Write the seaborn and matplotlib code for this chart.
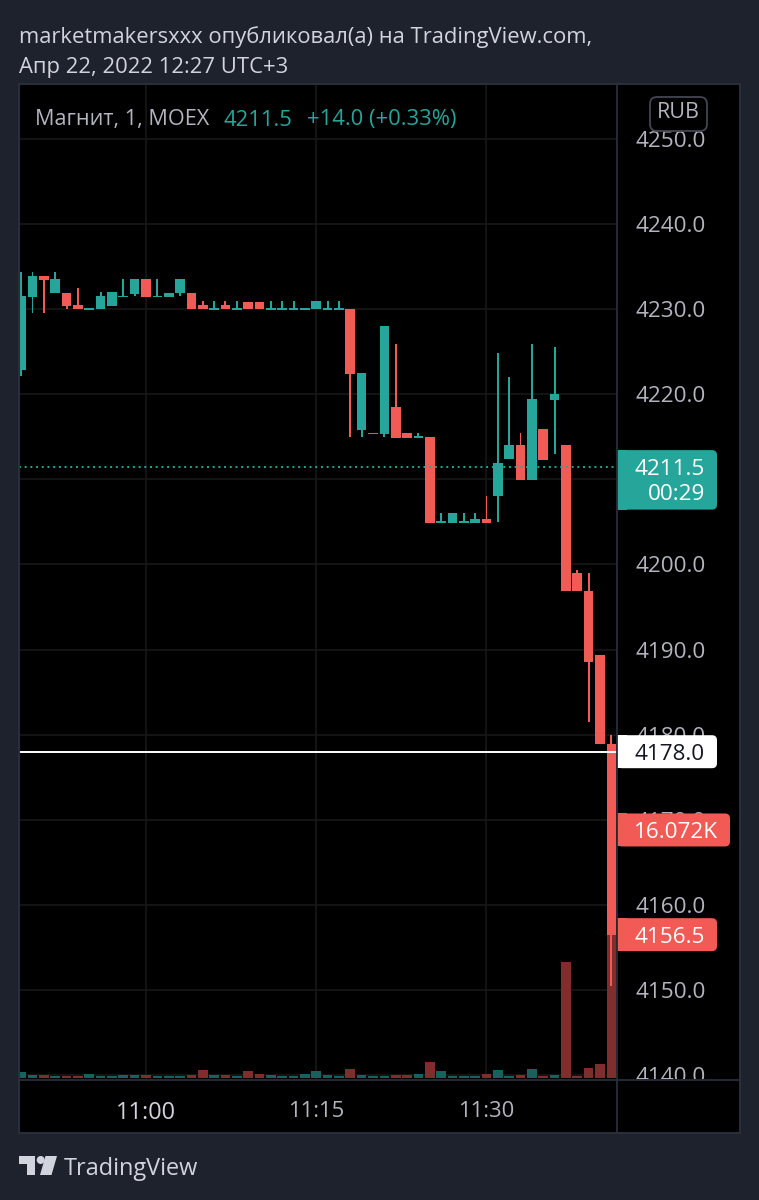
import matplotlib as mpl
mpl.use("Agg")
import matplotlib.pyplot as plt
from matplotlib.patches import FancyBboxPatch, Rectangle, Polygon, Circle
import numpy as np
import pandas as pd
import seaborn as sns

sns.set_style("dark")
plt.rcParams["font.family"] = ["Open Sans", "DejaVu Sans"]

W, H = 759, 1200
DPI = 100

# minutes after 11:00
minutes = list(range(-11, 42))
opens = [4222.9, 4231.4, 4233.9, 4231.9, 4231.9, 4230.5, 4229.9, 4230.0, 4230.4, 4231.4,
         4231.8, 4233.5, 4231.4, 4231.4, 4231.9, 4231.9, 4230.5, 4229.9, 4230.5, 4229.9,
         4230.9, 4230.9, 4229.9, 4229.9, 4229.9, 4229.9, 4230.0, 4229.9, 4229.9, 4230.0,
         4215.8, 4215.3, 4215.3, 4218.5, 4215.4, 4214.9, 4215.0, 4204.9, 4204.9, 4204.9,
         4204.9, 4205.4, 4208.0, 4212.4, 4214.0, 4209.9, 4215.9, 4219.3, 4214.0, 4199.0,
         4196.9, 4189.4, 4178.9]
highs = [4234.4, 4234.4, 4233.9, 4234.4, 4231.9, 4232.5, 4230.1, 4232.0, 4232.0, 4233.5,
         4233.5, 4233.5, 4233.5, 4231.9, 4233.5, 4231.9, 4231.0, 4231.0, 4231.0, 4231.0,
         4230.9, 4230.9, 4231.0, 4231.0, 4231.0, 4230.1, 4231.0, 4231.0, 4231.0, 4230.0,
         4222.5, 4215.5, 4228.0, 4225.9, 4215.4, 4215.4, 4215.0, 4206.0, 4206.0, 4206.0,
         4206.0, 4208.0, 4224.9, 4222.0, 4215.4, 4225.9, 4215.9, 4225.5, 4214.0, 4199.4,
         4199.0, 4189.4, 4180.0]
lows = [4222.1, 4229.5, 4229.5, 4231.9, 4230.0, 4230.0, 4229.9, 4230.0, 4230.4, 4231.4,
        4231.5, 4231.4, 4231.4, 4231.4, 4231.5, 4230.0, 4230.0, 4229.9, 4230.0, 4229.9,
        4230.0, 4230.0, 4229.9, 4229.9, 4229.9, 4229.9, 4230.0, 4229.9, 4229.9, 4215.0,
        4215.0, 4215.3, 4215.0, 4214.9, 4214.9, 4214.9, 4204.9, 4204.9, 4204.9, 4204.9,
        4204.9, 4204.9, 4205.0, 4212.4, 4209.9, 4209.9, 4212.3, 4213.0, 4196.9, 4196.9,
        4181.5, 4178.9, 4150.5]
closes = [4231.5, 4233.9, 4233.4, 4233.5, 4230.4, 4230.0, 4230.1, 4231.5, 4232.0, 4231.6,
          4233.5, 4231.4, 4231.6, 4231.9, 4233.5, 4230.0, 4230.0, 4230.1, 4230.0, 4230.1,
          4230.0, 4230.0, 4230.1, 4230.1, 4230.1, 4230.1, 4231.0, 4230.1, 4230.1, 4222.4,
          4222.5, 4215.5, 4228.0, 4214.9, 4214.9, 4215.1, 4204.9, 4205.1, 4206.0, 4205.1,
          4205.4, 4204.9, 4211.9, 4214.0, 4209.9, 4219.4, 4212.3, 4220.0, 4196.9, 4196.9,
          4188.5, 4178.9, 4156.5]
volumes = [370, 195, 195, 130, 130, 130, 260, 130, 130, 195,
           195, 195, 130, 130, 130, 195, 500, 195, 195, 130,
           430, 260, 195, 130, 130, 260, 430, 195, 130, 560,
           195, 130, 130, 195, 195, 240, 1037, 430, 130, 130,
           130, 240, 500, 130, 195, 560, 130, 195, 7517, 130,
           670, 907, 16072]

price_ticks = [4140, 4150, 4160, 4170, 4180, 4190, 4200, 4210, 4220, 4230, 4240, 4250]
time_ticks = [0, 15, 30]
time_labels = ["11:00", "11:15", "11:30"]

BG = "#1e222d"
UP = "#26a69a"
DOWN = "#f25a56"
UP_VOL = "#14635c"
DOWN_VOL = "#7f2d2d"
GRID = "#171717"
SEP = "#2a2e39"
TEXT = "#d1d4dc"
MUTED = "#b2b5be"

df = pd.DataFrame({"t": minutes, "open": opens, "high": highs, "low": lows,
                   "close": closes, "volume": volumes})
df["up"] = df["close"] >= df["open"]


def rect(x0, y0, x1, y1):
    # pixel box (top-left origin) to figure fraction
    return [x0 / W, 1 - y1 / H, (x1 - x0) / W, (y1 - y0) / H]


def px(size):
    return size * 72 / DPI


def bars(ax, data, bottom, height, color, width):
    sns.barplot(x=data["t"].to_numpy(), y=height, bottom=bottom, native_scale=True,
                orient="x", color=color, saturation=1, width=width, errorbar=None,
                linewidth=0, ax=ax)


fig = plt.figure(figsize=(W / DPI, H / DPI), dpi=DPI, facecolor=BG)

x_lim = (-11.19, 41.5)
y_lim = (4139.54, 4256.46)

scale_ax = fig.add_axes(rect(617, 84, 740, 1079), facecolor="black", zorder=0)
scale_ax.set_xticks([])
scale_ax.set_yticks([])

# grid sits under the volume bars, so it gets its own layer
grid_ax = fig.add_axes(rect(19, 84, 617, 1079), facecolor="black", zorder=0.5)
grid_ax.set_xlim(x_lim)
grid_ax.set_ylim(y_lim)
grid_ax.set_xticks(time_ticks)
grid_ax.set_yticks(price_ticks)
grid_ax.tick_params(length=0, labelbottom=False, labelleft=False)
grid_ax.grid(True, color=GRID, lw=1.2)

vol_ax = fig.add_axes(rect(19, 84, 617, 1079), zorder=1)
vol_ax.patch.set_visible(False)
ax = fig.add_axes(rect(19, 84, 617, 1079), zorder=2)
ax.patch.set_visible(False)

# volume pane
for up, color in [(True, UP_VOL), (False, DOWN_VOL)]:
    part = df[df["up"] == up]
    sns.barplot(data=part, x="t", y="volume", native_scale=True, orient="x", color=color,
                saturation=1, width=0.85, errorbar=None, linewidth=0, ax=vol_ax)
vol_ax.set_xlim(x_lim)
vol_ax.set_ylim(-65, -65 + 995 * 64.8)
vol_ax.set_xticks([])
vol_ax.set_yticks([])
vol_ax.set_xlabel("")
vol_ax.set_ylabel("")
vol_ax.grid(False)

# candles
for up, color in [(True, UP), (False, DOWN)]:
    part = df[df["up"] == up]
    bars(ax, part, part["low"].to_numpy(), (part["high"] - part["low"]).to_numpy(), color, 0.17)
    bottom = part[["open", "close"]].min(axis=1).to_numpy()
    height = (part["close"] - part["open"]).abs().to_numpy()
    bars(ax, part, bottom, height, color, 0.85)

ax.axhline(4178.0, color="white", lw=1.4, zorder=1)
ax.axhline(4211.5, color=UP, lw=1.4, linestyle=(0, (1, 1.93)), zorder=5)

ax.set_xlim(x_lim)
ax.set_ylim(y_lim)
ax.set_xlabel("")
ax.set_ylabel("")
ax.set_xticks([])
ax.set_yticks(price_ticks)
ax.set_yticklabels([f"{p:.1f}" for p in price_ticks])
ax.yaxis.tick_right()
ax.tick_params(axis="y", length=0, pad=px(19), labelsize=px(22.5), labelcolor=MUTED)
ax.grid(False)
for a in (ax, vol_ax, grid_ax, scale_ax):
    for s in a.spines.values():
        s.set_visible(False)
for lab in ax.get_yticklabels():
    lab.set_ha("left")

# time pane
time_ax = fig.add_axes(rect(19, 1079, 617, 1133), facecolor="black", zorder=3)
time_ax.set_xlim(x_lim)
time_ax.set_xticks(time_ticks)
time_ax.set_xticklabels(time_labels)
time_ax.set_yticks([])
time_ax.tick_params(axis="x", length=0, pad=-px(32), labelsize=px(22), labelcolor=MUTED)
first = time_ax.get_xticklabels()[0]
first.set_fontweight("medium")
first.set_fontsize(px(23.5))
first.set_color(TEXT)
for s in time_ax.spines.values():
    s.set_visible(False)

corner_ax = fig.add_axes(rect(617, 1079, 740, 1133), facecolor="black", zorder=3)
corner_ax.set_xticks([])
corner_ax.set_yticks([])
for s in corner_ax.spines.values():
    s.set_visible(False)

# overlay in pixel coordinates for the page furniture
top = fig.add_axes([0, 0, 1, 1], zorder=6)
top.set_xlim(0, W)
top.set_ylim(H, 0)
top.set_axis_off()
top.patch.set_visible(False)

top.add_patch(Rectangle((19, 84), 721, 1049, fill=False, ec=SEP, lw=1.5))
top.plot([617, 617], [84, 1133], color=SEP, lw=1.3)
top.plot([19, 740], [1079.5, 1079.5], color=SEP, lw=1.3)

top.text(19, 37, "marketmakersxxx опубликовал(а) на TradingView.com,", color=TEXT,
         fontsize=px(22), va="center")
top.text(19, 68, "Апр 22, 2022 12:27 UTC+3", color=TEXT, fontsize=px(22), va="center")

top.text(35, 120, "Магнит, 1, MOEX", color=MUTED, fontsize=px(21.7), va="center")
top.text(224, 120, "4211.5", color=UP, fontsize=px(22), va="center")
top.text(307, 120, "+14.0 (+0.33%)", color=UP, fontsize=px(22), va="center")

top.add_patch(FancyBboxPatch((654, 101), 49, 26, boxstyle="round,pad=4,rounding_size=7",
                             fc="black", ec="#434651", lw=1.3))
top.text(678.5, 113, "RUB", color=MUTED, fontsize=px(21.5), ha="center", va="center")


def price_y(value):
    # pixel row of a price on the main axis
    return H - ax.transData.transform((0, value))[1]


def price_tag(value, label, color, text_color, x1=717, half=16.5, sub=None):
    y = price_y(value)
    y0, y1 = y - half, y + half
    if sub is not None:
        y1 = y + 43
    top.add_patch(FancyBboxPatch((617, y0), x1 - 617, y1 - y0,
                                 boxstyle="round,pad=0,rounding_size=5", fc=color, lw=0))
    top.add_patch(Rectangle((617, y0), 10, y1 - y0, fc=color, lw=0))
    top.text(x1 - 12, y + 2.5, label, color=text_color, fontsize=px(22.5), ha="right", va="center")
    if sub is not None:
        top.text(x1 - 12, y + 28, sub, color=text_color, fontsize=px(22.5), ha="right", va="center")


price_tag(4211.5, "4211.5", UP, "white", sub="00:29")
price_tag(4178.0, "4178.0", "white", "#131722")
price_tag(4156.5, "4156.5", DOWN, "white")
# volume tag sits at the height of the last volume bar
vol_y = H - vol_ax.transData.transform((0, volumes[-1]))[1]
price_tag(ax.transData.inverted().transform((0, H - vol_y))[1], "16.072K", DOWN, "white", x1=730)

# logo
top.add_patch(Polygon([(19, 1156), (35, 1156), (35, 1175), (27, 1175), (27, 1164), (19, 1164)],
                      fc=TEXT, lw=0))
top.add_patch(Circle((40.7, 1160), 4, fc=TEXT, lw=0))
top.add_patch(Polygon([(45.5, 1156), (57, 1156), (51.5, 1175), (40, 1175)], fc=TEXT, lw=0))
top.text(64, 1169, "TradingView", color=TEXT, fontsize=px(23.5), va="center")

fig.savefig("out.png", dpi=DPI, facecolor=BG)
